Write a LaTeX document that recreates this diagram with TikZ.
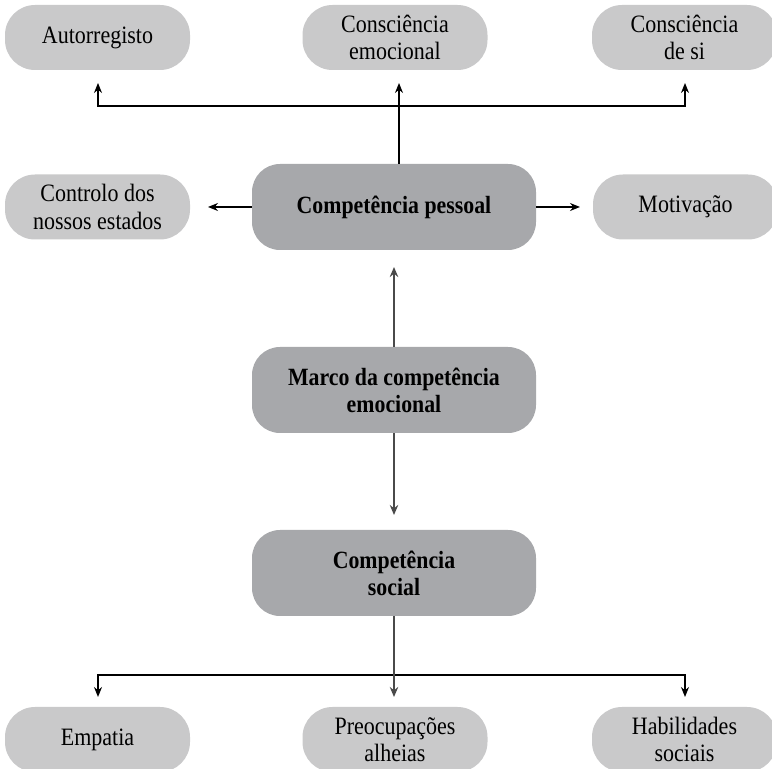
\documentclass[tikz,border=0pt]{standalone}
\usepackage{fontspec}
\setmainfont{Liberation Serif}[FakeStretch=0.88]
\usetikzlibrary{arrows.meta}
\definecolor{lightbox}{HTML}{C9C9CA}
\definecolor{darkbox}{HTML}{A7A8AB}
\definecolor{linegray}{HTML}{4A4A4A}
\begin{document}
\begin{tikzpicture}[x=0.5pt,y=-0.5pt,
  small/.style={fill=lightbox, rounded corners=15pt, minimum width=92.5pt, minimum height=32.5pt, inner sep=0pt, align=center, font=\fontsize{12.5}{13.8}\selectfont},
  big/.style={fill=darkbox, rounded corners=14pt, minimum width=142pt, minimum height=43pt, inner sep=0pt, align=center, font=\fontsize{12.4}{13.5}\selectfont\bfseries},
  blk/.style={line width=0.7pt, -{Stealth[length=5pt,width=4pt]}},
  gry/.style={draw=linegray, line width=1.1pt, -{Stealth[length=5pt,width=4.2pt]}, color=linegray}]
\useasboundingbox (0,0) rectangle (772,769);
% top row
\node[small] (au) at (97.5,37.5) {Autorregisto};
\node[small] (ce) at (395,37.5) {Consciência\\emocional};
\node[small] (cs) at (684.5,37.5) {Consciência\\de si};
% second row
\node[small] (co) at (97.5,207) {Controlo dos\\nossos estados};
\node[big] (pes) at (394,207) {Competência pessoal};
\node[small] (mo) at (685.5,207) {Motivação};
% middle
\node[big] (mar) at (394,390) {Marco da competência\\emocional};
\node[big] (soc) at (394,573) {Competência\\social};
% bottom row
\node[small] (em) at (97.5,739.5) {Empatia};
\node[small] (pr) at (395,739.5) {Preocupações\\alheias};
\node[small] (ha) at (684.5,739.5) {Habilidades\\sociais};
% coordinates
\coordinate (tm) at (399,106);
\coordinate (tl) at (98,106);
\coordinate (tr) at (685,106);
\coordinate (auTip) at (98,83);
\coordinate (ceTip) at (399,83);
\coordinate (csTip) at (685,83);
\coordinate (coTip) at (208,207);
\coordinate (moTip) at (580,207);
\coordinate (pesTip) at (394,267);
\coordinate (socTip) at (394,515);
\coordinate (bm) at (394,675);
\coordinate (bl) at (98,675);
\coordinate (br) at (685,675);
\coordinate (emTip) at (98,697);
\coordinate (prTip) at (394,697);
\coordinate (haTip) at (685,697);
% connectors top
\draw[blk] (pes.north -| ceTip) -- (ceTip);
\draw[blk] (tm) -- (tl) -- (auTip);
\draw[blk] (tm) -- (tr) -- (csTip);
% side arrows
\draw[blk] (pes.west) -- (coTip);
\draw[blk] (pes.east) -- (moTip);
% middle
\draw[gry] (mar.north) -- (pesTip);
\draw[gry] (mar.south) -- (socTip);
% bottom
\draw[blk] (bm) -- (bl) -- (emTip);
\draw[blk] (bm) -- (br) -- (haTip);
\draw[gry] (soc.south) -- (prTip);
\end{tikzpicture}
\end{document}
